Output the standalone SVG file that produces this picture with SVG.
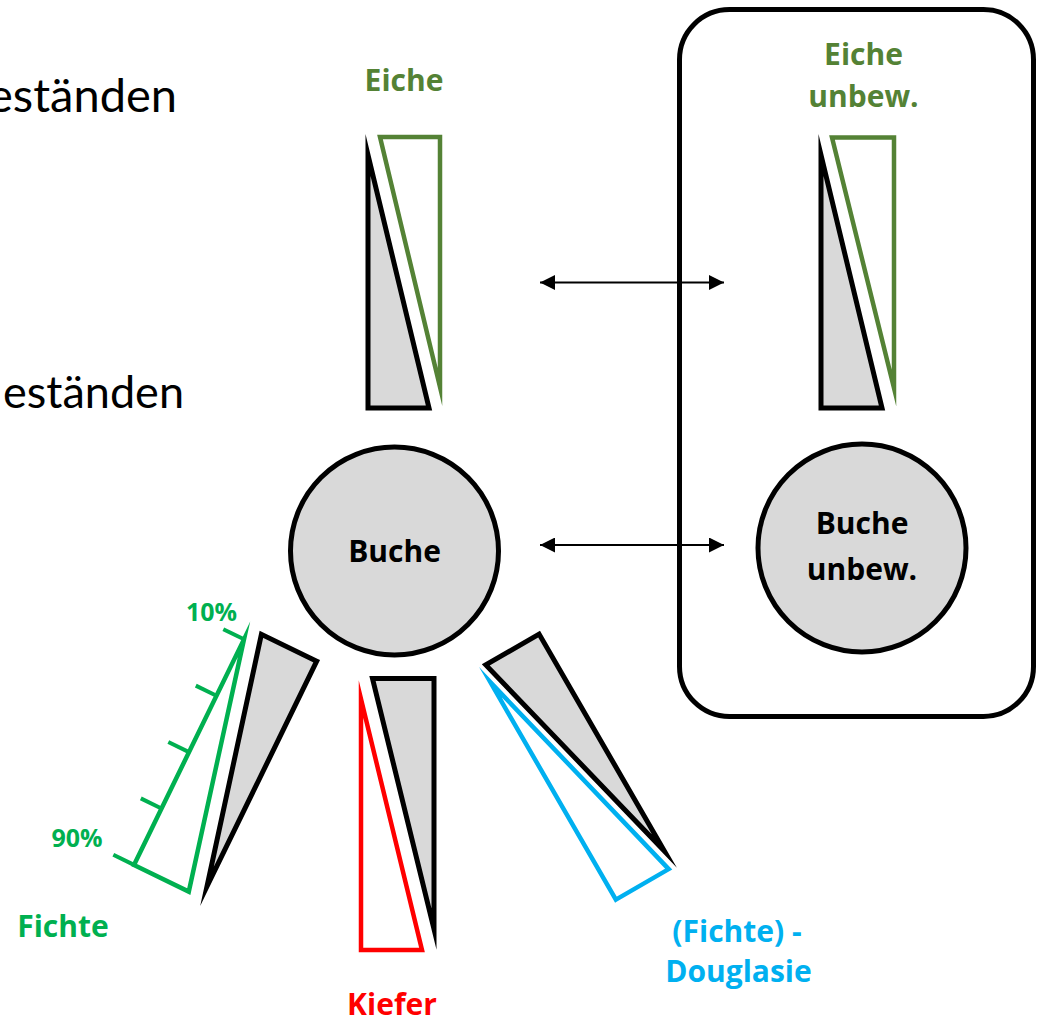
<svg xmlns="http://www.w3.org/2000/svg" width="1040" height="1020" viewBox="0 0 1040 1020">
  <style>
    .lbl { font-family: "Open Sans", Lato, "Liberation Sans", sans-serif; font-weight: bold; font-size: 30px; text-anchor: middle; }
    .pct { font-size: 25px; }
    .body { font-family: Lato, "Open Sans", "Liberation Sans", sans-serif; text-anchor: end; fill: #000; }
    .base { fill: #D9D9D9; stroke: #000; stroke-width: 5; stroke-linejoin: miter; stroke-miterlimit: 30; }
    .mix { fill: #fff; stroke-width: 4.5; stroke-linejoin: miter; stroke-miterlimit: 30; }
    .tree { fill: #D9D9D9; stroke: #000; stroke-width: 5; }
    .olive { fill: #548235; }
    .spruce { fill: #00B050; }
    .pine { fill: #FF0000; }
    .fir { fill: #00B0F0; }
    .link { stroke: #000; stroke-width: 2; fill: none; marker-start: url(#head); marker-end: url(#head); }
  </style>
  <defs>
    <marker id="head" viewBox="0 0 15 15" refX="15" refY="7.5" markerWidth="15" markerHeight="15" markerUnits="userSpaceOnUse" orient="auto-start-reverse">
      <path d="M0,0 L15,7.5 L0,15 Z" fill="#000"/>
    </marker>
  </defs>

  <rect width="1040" height="1020" fill="#fff"/>

  <!-- body text running off the left edge -->
  <text class="body" x="177" y="112" font-size="47">eständen</text>
  <text class="body" x="184" y="408" font-size="45">eständen</text>

  <!-- frame around the unmanaged reference stands -->
  <rect id="frame" x="679.5" y="9.5" width="354" height="707" rx="50" ry="50" fill="none" stroke="#000" stroke-width="5"/>

  <!-- oak mixture -->
  <g id="eiche">
    <polygon class="base" points="368,155 368,408 429,408"/>
    <polygon class="mix" stroke="#548235" points="380,137 440,137 440,387"/>
    <text class="lbl olive" x="404" y="91">Eiche</text>
  </g>

  <!-- unmanaged oak -->
  <g id="eiche-unbew">
    <polygon class="base" points="821,155 821,408 882,408"/>
    <polygon class="mix" stroke="#548235" points="832,137.5 894,137.5 894,388"/>
    <text class="lbl olive" x="863.5" y="65">Eiche</text>
    <text class="lbl olive" x="863.5" y="107">unbew.</text>
  </g>

  <!-- beech -->
  <g id="buche">
    <circle class="tree" cx="394.5" cy="551" r="104"/>
    <text class="lbl" x="394.5" y="562">Buche</text>
  </g>

  <!-- unmanaged beech -->
  <g id="buche-unbew">
    <circle class="tree" cx="862" cy="548" r="104"/>
    <text class="lbl" x="862" y="534">Buche</text>
    <text class="lbl" x="862" y="580">unbew.</text>
  </g>

  <!-- spruce mixture with share scale -->
  <g id="fichte">
    <polygon class="base" points="316.7,661.2 261.4,634.3 207,886.4"/>
    <polygon class="mix" stroke="#00B050" points="134,864.9 188.8,891.6 244,639.3"/>
    <g stroke="#00B050" stroke-width="4">
      <line x1="134" y1="864.9" x2="113.3" y2="854.8"/>
      <line x1="161.5" y1="808.5" x2="140.8" y2="798.4"/>
      <line x1="189" y1="752.1" x2="168.3" y2="742"/>
      <line x1="216.5" y1="695.7" x2="195.8" y2="685.6"/>
      <line x1="244" y1="639.3" x2="223.3" y2="629.2"/>
    </g>
    <text class="lbl pct spruce" x="211.5" y="620.5">10%</text>
    <text class="lbl pct spruce" x="77" y="847">90%</text>
    <text class="lbl spruce" x="63" y="937">Fichte</text>
  </g>

  <!-- pine mixture -->
  <g id="kiefer">
    <polygon class="base" points="372.5,678.5 434,678.5 434,929"/>
    <polygon class="mix" stroke="#FF0000" points="361,699 361,950 422,950"/>
    <text class="lbl pine" x="392" y="1015">Kiefer</text>
  </g>

  <!-- douglas fir mixture -->
  <g id="douglasie">
    <polygon class="base" points="539.1,634.1 485.8,664.9 664.4,851"/>
    <polygon class="mix" stroke="#00B0F0" points="615.9,899.6 668.7,869.1 490.4,682.2"/>
    <text class="lbl fir" x="737" y="942">(Fichte) -</text>
    <text class="lbl fir" x="738.5" y="982">Douglasie</text>
  </g>

  <!-- comparison arrows -->
  <g id="connectors">
    <line class="link" x1="540" y1="282.5" x2="724" y2="282.5"/>
    <line class="link" x1="540" y1="545" x2="724" y2="545"/>
  </g>
</svg>
